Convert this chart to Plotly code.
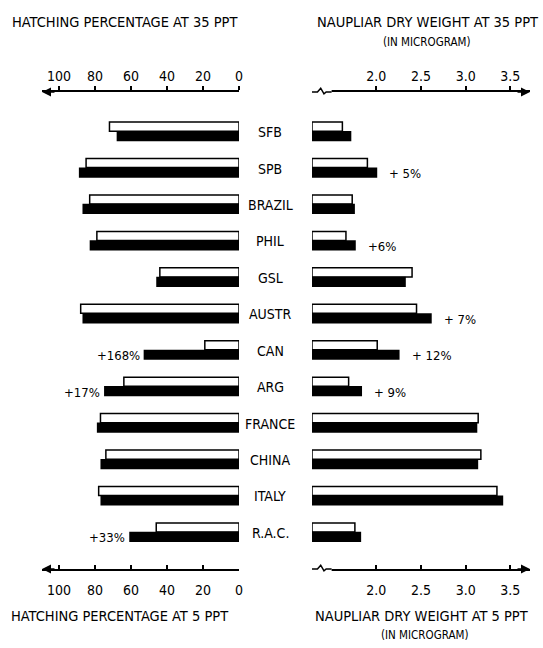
import plotly.graph_objects as go

categories = ["SFB", "SPB", "BRAZIL", "PHIL", "GSL", "AUSTR", "CAN", "ARG",
              "FRANCE", "CHINA", "ITALY", "R.A.C."]
hatch_35 = [72, 85, 83, 79, 44, 88, 19, 64, 77, 74, 78, 46]
hatch_5 = [68, 89, 87, 83, 46, 87, 53, 75, 79, 77, 77, 61]
weight_35 = [1.62, 1.90, 1.73, 1.66, 2.40, 2.45, 2.01, 1.69, 3.14, 3.17, 3.35, 1.76]
weight_5 = [1.72, 2.01, 1.76, 1.77, 2.33, 2.62, 2.26, 1.84, 3.13, 3.14, 3.42, 1.83]
hatch_notes = {"CAN": "+168%", "ARG": "+17%", "R.A.C.": "+33%"}
weight_notes = {"SPB": "+ 5%", "PHIL": "+6%", "AUSTR": "+ 7%", "CAN": "+ 12%", "ARG": "+ 9%"}
hatch_ticks = [100, 80, 60, 40, 20, 0]
weight_ticks = [2.0, 2.5, 3.0, 3.5]
weight_base = 1.28

FONT = "DejaVu Sans Condensed, Liberation Sans Narrow, DejaVu Sans, sans-serif"
W, H = 543, 648
pos = list(range(len(categories)))
off_w, wid_w = -0.15, 0.25
off_b, wid_b = 0.11, 0.28

fig = go.Figure()
# hatching (left)
fig.add_trace(go.Bar(y=[p + off_w for p in pos], x=hatch_35, orientation="h", width=wid_w,
                     marker=dict(color="white", line=dict(color="black", width=1.5)),
                     xaxis="x", yaxis="y", showlegend=False))
fig.add_trace(go.Bar(y=[p + off_b for p in pos], x=hatch_5, orientation="h", width=wid_b,
                     marker=dict(color="black", line=dict(color="black", width=0)),
                     xaxis="x", yaxis="y", showlegend=False))
# dry weight (right)
fig.add_trace(go.Bar(y=[p + off_w for p in pos], x=[v - weight_base for v in weight_35],
                     base=weight_base, orientation="h", width=wid_w,
                     marker=dict(color="white", line=dict(color="black", width=1.5)),
                     xaxis="x2", yaxis="y", showlegend=False))
fig.add_trace(go.Bar(y=[p + off_b for p in pos], x=[v - weight_base for v in weight_5],
                     base=weight_base, orientation="h", width=wid_b,
                     marker=dict(color="black", line=dict(color="black", width=0)),
                     xaxis="x2", yaxis="y", showlegend=False))
# empty traces so the top axes are drawn
for xa in ("x3", "x4"):
    fig.add_trace(go.Scatter(x=[None], y=[None], xaxis=xa, yaxis="y", showlegend=False,
                             hoverinfo="skip", mode="markers"))

tickfont = dict(family=FONT, size=14, color="black")
left_dom = [42 / W, 239 / W]
right_dom = [312 / W, 530 / W]
y_dom = [1 - 569 / H, 1 - 92 / H]

common = dict(showline=True, linecolor="black", linewidth=1.5, showgrid=False,
              zeroline=False, tickfont=tickfont, ticklen=4, tickcolor="black", tickwidth=1.5,
              automargin=False)

fig.update_layout(
    width=W, height=H, margin=dict(l=0, r=0, t=0, b=0),
    paper_bgcolor="white", plot_bgcolor="white", barmode="overlay",
    font=dict(family=FONT, color="black"),
    xaxis=dict(domain=left_dom, range=[109.5, 0], tickvals=hatch_ticks, anchor="y",
               side="bottom", ticks="inside", ticklabelstandoff=7, **common),
    xaxis3=dict(range=[109.5, 0], tickvals=hatch_ticks, anchor="y", overlaying="x",
                side="top", ticks="outside", **common),
    xaxis2=dict(domain=right_dom, range=[weight_base, 3.72], tickvals=weight_ticks,
                ticktext=[f"{t:.1f}" for t in weight_ticks], anchor="y",
                side="bottom", ticks="inside", ticklabelstandoff=7, **common),
    xaxis4=dict(range=[weight_base, 3.72], tickvals=weight_ticks,
                ticktext=[f"{t:.1f}" for t in weight_ticks], anchor="y", overlaying="x2",
                side="top", ticks="outside", **common),
    yaxis=dict(domain=y_dom, range=[11.99, -1.10], visible=False),
)

ann = []
# category labels
for p, c in zip(pos, categories):
    ann.append(dict(x=270 / W, xref="paper", y=p, yref="y", text=c, showarrow=False,
                    font=dict(family=FONT, size=14), xanchor="center", yanchor="middle"))
# notes
for p, c, v in zip(pos, categories, hatch_5):
    if c in hatch_notes:
        ann.append(dict(x=v, xref="x", y=p + off_b, yref="y", text=hatch_notes[c],
                        showarrow=False, xanchor="right", xshift=-2, yshift=-1,
                        font=dict(family=FONT, size=13)))
for p, c, v in zip(pos, categories, weight_5):
    if c in weight_notes:
        ann.append(dict(x=v, xref="x2", y=p + off_b, yref="y", text=weight_notes[c],
                        showarrow=False, xanchor="left", xshift=10, yshift=-1,
                        font=dict(family=FONT, size=13)))
# titles
tf = dict(family=FONT, size=14.5)
sf = dict(family=FONT, size=11.5)
titles = [
    dict(x=125 / W, y=1 - 22 / H, text="HATCHING PERCENTAGE AT 35 PPT", font=tf),
    dict(x=428 / W, y=1 - 22 / H, text="NAUPLIAR DRY WEIGHT AT 35 PPT", font=tf),
    dict(x=426 / W, y=1 - 42 / H, text="(IN MICROGRAM)", font=sf),
    dict(x=120 / W, y=1 - 616 / H, text="HATCHING PERCENTAGE AT 5 PPT", font=tf),
    dict(x=422 / W, y=1 - 616 / H, text="NAUPLIAR DRY WEIGHT AT 5 PPT", font=tf),
    dict(x=424 / W, y=1 - 635 / H, text="(IN MICROGRAM)", font=sf),
]
for a in titles:
    a.update(xref="paper", yref="paper", showarrow=False, xanchor="center", yanchor="middle")
ann += titles
# axis arrows
for yy in (0, 1):
    ann.append(dict(x=0, xref="x domain", y=yy, yref="y domain", ax=14, ay=0,
                    text="", showarrow=True,
                    arrowhead=2, arrowsize=1.2, arrowwidth=1.5, arrowcolor="black"))
    ann.append(dict(x=1, xref="x2 domain", y=yy, yref="y domain", ax=-14, ay=0,
                    text="", showarrow=True,
                    arrowhead=2, arrowsize=1.2, arrowwidth=1.5, arrowcolor="black"))
fig.update_layout(annotations=ann)

# axis break symbols on the weight axis
shapes = []
for yy in (0, 1):
    shapes.append(dict(type="rect", xref="x2 domain", yref="y domain",
                       x0=0, x1=0.09, y0=yy - 0.006, y1=yy + 0.006,
                       fillcolor="white", line=dict(width=0), layer="above"))
    shapes.append(dict(type="path", xref="x2 domain", yref="y domain", layer="above",
                       path=f"M 0,{yy} L 0.025,{yy} L 0.04,{yy + 0.008} L 0.055,{yy - 0.004} "
                            f"L 0.065,{yy} L 0.09,{yy}",
                       line=dict(color="black", width=1.5)))
fig.update_layout(shapes=shapes)

fig.write_html("out.html", config={"displayModeBar": False},
               post_script="document.body.style.margin='0';")
